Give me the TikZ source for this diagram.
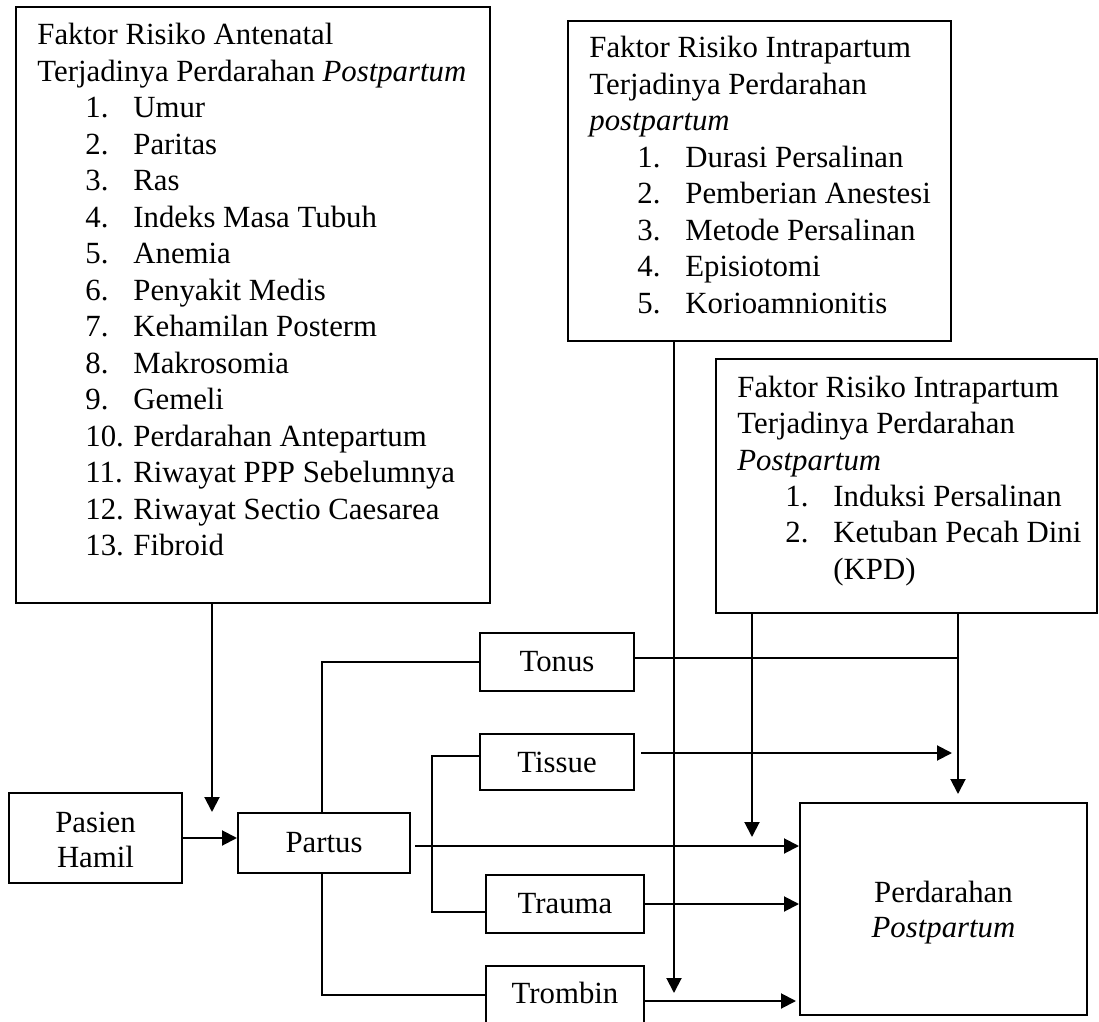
\documentclass[tikz,border=0pt]{standalone}
\usepackage{fontspec}
\setmainfont{Liberation Serif}
\usetikzlibrary{arrows.meta,fit}
\newcommand\itm[1]{\hspace*{24pt}\makebox[24pt][l]{#1}}
\begin{document}
\begin{tikzpicture}[x=0.5pt,y=-0.5pt,
  box/.style={draw, line width=1pt, inner sep=0pt},
  ctr/.style={inner sep=0pt, align=center, font=\fontsize{15.4}{17.5}\selectfont},
  lbl/.style={inner sep=0pt, anchor=base west, font=\fontsize{15.4}{18.25}\selectfont},
  conn/.style={line width=1pt},
  arr/.style={line width=1pt, -{Triangle[length=7.5pt,width=7.5pt]}},
]
\useasboundingbox (0,0) rectangle (1099,1022);

% boxes
\node[box, fit={(16,7) (490,603)}] (A) {};
\node[box, fit={(568,21) (951,341)}] (B) {};
\node[box, fit={(716,359) (1097,613)}] (C) {};
\node[box, fit={(9,793) (182,883)}] (Pasien) {};
\node[box, fit={(238,813) (410,873)}] (Partus) {};
\node[box, fit={(480,633) (634,691)}] (Tonus) {};
\node[box, fit={(480,734) (634,790)}] (Tissue) {};
\node[box, fit={(486,875) (644,933)}] (Trauma) {};
\node[box, fit={(486,966) (644,1024)}] (Trombin) {};
\node[box, fit={(800,803) (1087,1015)}] (Perd) {};

% centred labels
\node[ctr] (PasienT) at ([yshift=-1pt]Pasien.center) {Pasien\\Hamil};
\node[ctr] (PartusT) at (Partus.center) {Partus};
\node[ctr] (TonusT) at (Tonus.center) {Tonus};
\node[ctr] (TissueT) at (Tissue.center) {Tissue};
\node[ctr] (TraumaT) at (Trauma.center) {Trauma};
\node[ctr] (TrombinT) at ([yshift=1pt]Trombin.center) {Trombin};
\node[ctr] (PerdT) at ([yshift=-2pt]Perd.center) {Perdarahan\\\textit{Postpartum}};

% box texts
\node[lbl] (Atxt) at (37,45) {\begin{tabular}[t]{@{}l@{}}
Faktor Risiko Antenatal\\
Terjadinya Perdarahan \textit{Postpartum}\\
\itm{1.}Umur\\
\itm{2.}Paritas\\
\itm{3.}Ras\\
\itm{4.}Indeks Masa Tubuh\\
\itm{5.}Anemia\\
\itm{6.}Penyakit Medis\\
\itm{7.}Kehamilan Posterm\\
\itm{8.}Makrosomia\\
\itm{9.}Gemeli\\
\itm{10.}Perdarahan Antepartum\\
\itm{11.}Riwayat PPP Sebelumnya\\
\itm{12.}Riwayat Sectio Caesarea\\
\itm{13.}Fibroid
\end{tabular}};

\node[lbl] (Btxt) at (589,58) {\begin{tabular}[t]{@{}l@{}}
Faktor Risiko Intrapartum\\
Terjadinya Perdarahan\\
\textit{postpartum}\\
\itm{1.}Durasi Persalinan\\
\itm{2.}Pemberian Anestesi\\
\itm{3.}Metode Persalinan\\
\itm{4.}Episiotomi\\
\itm{5.}Korioamnionitis
\end{tabular}};

\node[lbl] (Ctxt) at (737,397) {\begin{tabular}[t]{@{}l@{}}
Faktor Risiko Intrapartum\\
Terjadinya Perdarahan\\
\textit{Postpartum}\\
\itm{1.}Induksi Persalinan\\
\itm{2.}Ketuban Pecah Dini\\
\hspace*{48pt}(KPD)
\end{tabular}};

% free ends and bends
\coordinate (aTip) at (212,812);
\coordinate (pT) at (322,662);
\coordinate (pY) at (0,846);
\coordinate (brT) at (432,756);
\coordinate (brB) at (432,912);
\coordinate (cJ) at (958,658);
\coordinate (cTip) at (958,794);
\coordinate (tTip) at (952,753);
\coordinate (c2Tip) at (752,837);
\coordinate (tbY) at (0,1001);
\coordinate (bTip) at (674,993);

% connectors
\draw[arr] (aTip |- A.south) -- (aTip);
\draw[arr] (Pasien.east) -- (Pasien.east -| Partus.west);
\draw[conn] (pT |- Partus.north) -- (pT) -- (Tonus.west);
\draw[conn] (pT |- Partus.south) -- (pT |- Trombin.west) -- (Trombin.west);
\draw[arr] ([xshift=2pt]Partus.east |- pY) -- (Perd.west |- pY);
\draw[conn] (Tissue.west |- brT) -- (brT) -- (brB) -- (Trauma.west |- brB);
\draw[conn] (Tonus.east |- cJ) -- (cJ);
\draw[arr] (cTip |- C.south) -- (cTip);
\draw[arr] ([xshift=3pt]Tissue.east |- tTip) -- (tTip);
\draw[arr] (c2Tip |- C.south) -- (c2Tip);
\draw[arr] (Trauma.east) -- (Trauma.east -| Perd.west);
\draw[arr] (Trombin.east |- tbY) -- ([xshift=-1.5pt]Perd.west |- tbY);
\draw[arr] (bTip |- B.south) -- (bTip);
\end{tikzpicture}
\end{document}
